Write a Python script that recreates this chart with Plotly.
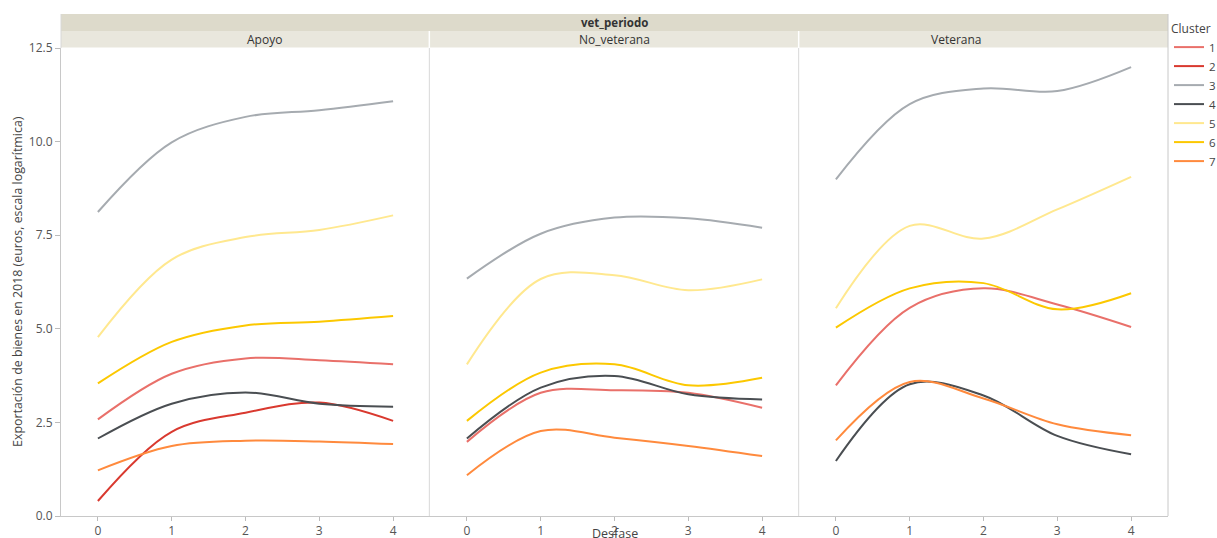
import plotly.graph_objects as go
from plotly.subplots import make_subplots

desfase = [0, 1, 2, 3, 4]
paneles = ["Apoyo", "No_veterana", "Veterana"]
clusters = ["1", "2", "3", "4", "5", "6", "7"]

apoyo = {
    "1": [2.58, 3.80, 4.21, 4.16, 4.05],
    "2": [0.40, 2.25, 2.76, 3.03, 2.54],
    "3": [8.12, 9.98, 10.66, 10.84, 11.08],
    "4": [2.07, 3.00, 3.30, 3.00, 2.92],
    "5": [4.78, 6.85, 7.45, 7.64, 8.03],
    "6": [3.54, 4.65, 5.09, 5.19, 5.34],
    "7": [1.22, 1.87, 2.01, 1.99, 1.92],
}
no_veterana = {
    "1": [1.98, 3.29, 3.36, 3.29, 2.89],
    "3": [6.34, 7.54, 7.97, 7.95, 7.70],
    "4": [2.07, 3.43, 3.74, 3.25, 3.11],
    "5": [4.05, 6.33, 6.43, 6.03, 6.32],
    "6": [2.54, 3.83, 4.05, 3.49, 3.69],
    "7": [1.09, 2.27, 2.09, 1.87, 1.60],
}
veterana = {
    "1": [3.49, 5.56, 6.08, 5.65, 5.05],
    "3": [8.99, 11.00, 11.42, 11.35, 11.99],
    "4": [1.47, 3.52, 3.22, 2.14, 1.65],
    "5": [5.55, 7.75, 7.41, 8.19, 9.06],
    "6": [5.03, 6.08, 6.22, 5.52, 5.95],
    "7": [2.02, 3.58, 3.14, 2.45, 2.16],
}
datos = [apoyo, no_veterana, veterana]

colores = {
    "1": "#e9706a",
    "2": "#d9392f",
    "3": "#a6abb0",
    "4": "#4a4e52",
    "5": "#ffe88f",
    "6": "#fcc800",
    "7": "#ff8a3d",
}

y_ticks = [0, 2.5, 5, 7.5, 10, 12.5]
y_ticktext = ["0.0", "2.5", "5.0", "7.5", "10.0", "12.5"]

FONT = "Open Sans"

# The capture covers a slightly larger CSS area than the target picture;
# work in target-picture pixels and convert.
SW, SH = 1217, 538
W, H = 1233, 551
KX, KY = W / SW, H / SH


def fx(s):
    return s * KX


def fy(s):
    return s * KY


PL, PR, PT, PB = 60, 1166, 47, 515  # plot area in target pixels
L, R, T, B = round(fx(PL)), round(W - fx(PR)), round(fy(PT)), round(H - fy(PB))
pw, ph = PR - PL, PB - PT


def py(pix):
    return (PB - pix) / ph


def px(pix):
    return (pix - PL) / pw


fig = make_subplots(rows=1, cols=3, shared_yaxes=True, horizontal_spacing=0)

shown = set()
for i, (panel, d) in enumerate(zip(paneles, datos)):
    for c in clusters:
        if c not in d:
            continue
        fig.add_trace(
            go.Scatter(
                x=desfase, y=d[c], mode="lines", name=c,
                legendgroup=c, showlegend=c not in shown,
                line=dict(color=colores[c], width=2, shape="spline", smoothing=1.0),
            ),
            row=1, col=i + 1,
        )
        shown.add(c)

for i in range(3):
    fig.update_xaxes(
        range=[-0.5, 4.5], tickvals=desfase, ticks="outside", ticklen=4,
        tickcolor="#bbbbbb", showgrid=False, zeroline=False,
        showline=True, linecolor="#c8c8c8", linewidth=1,
        tickfont=dict(family=FONT, size=12, color="#555555"),
        row=1, col=i + 1,
    )
fig.update_yaxes(
    range=[0, 12.5], tickvals=y_ticks, ticktext=y_ticktext, showgrid=False,
    zeroline=False, showline=True, linecolor="#c8c8c8", ticks="outside",
    ticklen=5, tickcolor="#bbbbbb",
    tickfont=dict(family=FONT, size=12, color="#555555"),
    row=1, col=1,
)
fig.update_yaxes(showline=False, showticklabels=False, ticks="", row=1, col=2)
fig.update_yaxes(showline=False, showticklabels=False, ticks="", row=1, col=3)

shapes = []
shapes.append(dict(type="rect", xref="paper", yref="paper", x0=0, x1=1,
                   y0=py(30), y1=py(13), fillcolor="#dddacb", line_width=0, layer="below"))
shapes.append(dict(type="rect", xref="paper", yref="paper", x0=0, x1=1,
                   y0=py(46.5), y1=py(30), fillcolor="#e9e7dd", line_width=0, layer="below"))
for xpix in [428, 797]:
    shapes.append(dict(type="line", xref="paper", yref="paper", x0=px(xpix), x1=px(xpix),
                       y0=0, y1=1, line=dict(color="#d8d8d8", width=1)))
    shapes.append(dict(type="line", xref="paper", yref="paper", x0=px(xpix), x1=px(xpix),
                       y0=1, y1=py(30), line=dict(color="#ffffff", width=1.5)))
shapes.append(dict(type="line", xref="paper", yref="paper", x0=1, x1=1,
                   y0=0, y1=py(13), line=dict(color="#c8c8c8", width=1)))
shapes.append(dict(type="line", xref="paper", yref="paper", x0=0, x1=0,
                   y0=1, y1=py(13), line=dict(color="#d8d8d8", width=1)))

annotations = [
    dict(text="<b>vet_periodo</b>", xref="paper", yref="paper", x=0.5, y=py(21.5),
         showarrow=False, font=dict(family=FONT, size=11.5, color="#333333"), yanchor="middle"),
    dict(text="Desfase", xref="paper", yref="paper", x=0.5, y=py(532.5),
         showarrow=False, font=dict(family=FONT, size=12.5, color="#444444"), yanchor="middle"),
    dict(text="Exportación de bienes en 2018 (euros, escala logarítmica)", xref="paper",
         yref="paper", x=px(16), y=py(280), textangle=-90, showarrow=False,
         font=dict(family=FONT, size=12.4, color="#444444"), xanchor="center", yanchor="middle"),
]
centers = [244, 613, 982]
for name, cx in zip(paneles, centers):
    annotations.append(dict(text=name, xref="paper", yref="paper", x=px(cx), y=py(38.5),
                            showarrow=False, yanchor="middle",
                            font=dict(family=FONT, size=12, color="#333333")))

fig.update_layout(
    width=W, height=H,
    margin=dict(l=L, r=R, t=T, b=B, pad=0),
    plot_bgcolor="white", paper_bgcolor="white",
    font=dict(family=FONT, size=11, color="#444444"),
    shapes=shapes, annotations=annotations,
    legend=dict(
        title=dict(text="Cluster", font=dict(family=FONT, size=12, color="#444444")),
        x=px(1167), y=py(16), xanchor="left", yanchor="top",
        font=dict(family=FONT, size=11.5, color="#444444"),
        itemwidth=30, tracegroupgap=0, bgcolor="rgba(0,0,0,0)",
    ),
)

fig.write_html(
    "out.html",
    config={"displayModeBar": False},
    post_script="document.body.style.margin='0';document.body.style.overflow='hidden';",
)
